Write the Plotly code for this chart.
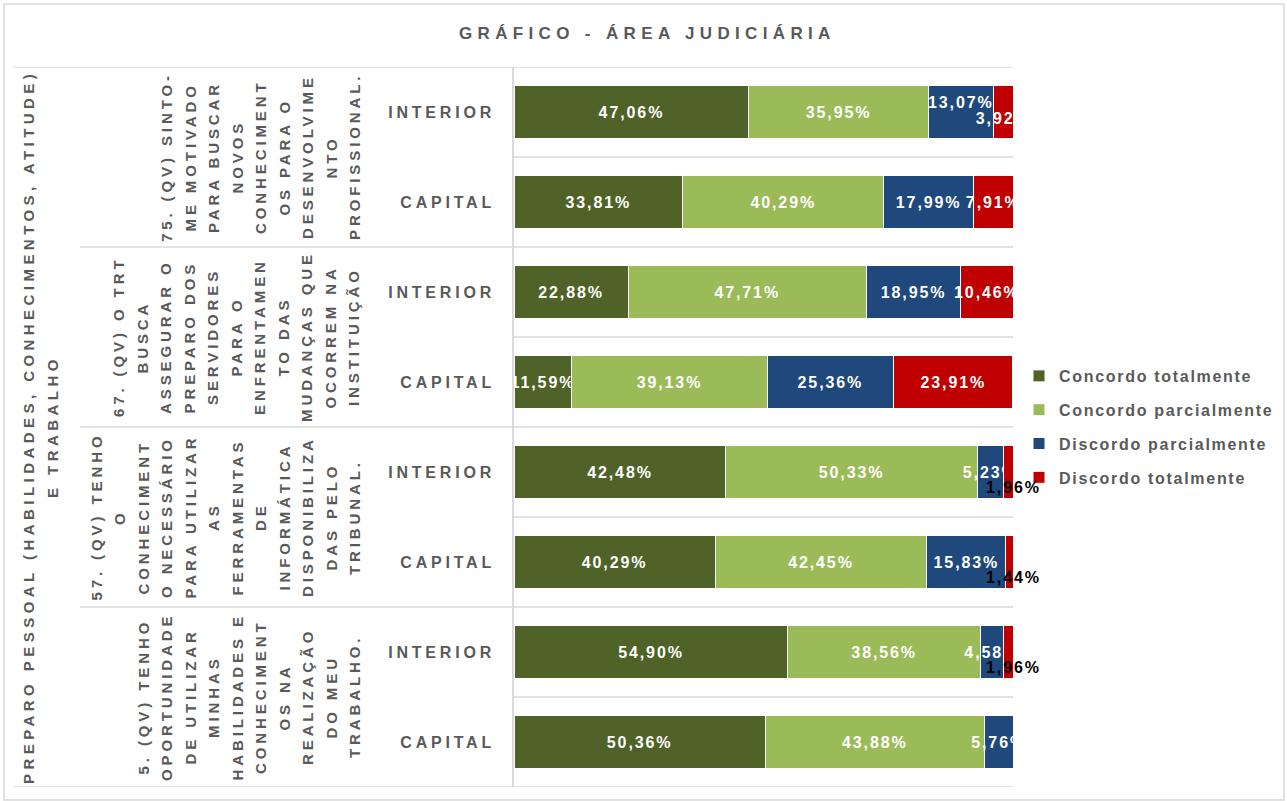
import plotly.graph_objects as go

# ---------------- data ----------------
title_text = "GRÁFICO - ÁREA JUDICIÁRIA"
group_label = ["PREPARO PESSOAL (HABILIDADES, CONHECIMENTOS, ATITUDE)", "E TRABALHO"]
questions = [
    ["75. (QV) SINTO-", "ME MOTIVADO", "PARA BUSCAR", "NOVOS", "CONHECIMENT",
     "OS PARA O", "DESENVOLVIME", "NTO", "PROFISSIONAL."],
    ["67. (QV) O TRT", "BUSCA", "ASSEGURAR O", "PREPARO DOS", "SERVIDORES",
     "PARA O", "ENFRENTAMEN", "TO DAS", "MUDANÇAS QUE", "OCORREM NA", "INSTITUIÇÃO"],
    ["57. (QV) TENHO", "O", "CONHECIMENT", "O NECESSÁRIO", "PARA UTILIZAR", "AS",
     "FERRAMENTAS", "DE", "INFORMÁTICA", "DISPONIBILIZA", "DAS PELO", "TRIBUNAL."],
    ["5. (QV) TENHO", "OPORTUNIDADE", "DE UTILIZAR", "MINHAS", "HABILIDADES E",
     "CONHECIMENT", "OS NA", "REALIZAÇÃO", "DO MEU", "TRABALHO."],
]
regions = ["INTERIOR", "CAPITAL", "INTERIOR", "CAPITAL", "INTERIOR", "CAPITAL", "INTERIOR", "CAPITAL"]
series_names = ["Concordo totalmente", "Concordo parcialmente", "Discordo parcialmente", "Discordo totalmente"]
concordo_total = [47.06, 33.81, 22.88, 11.59, 42.48, 40.29, 54.90, 50.36]
concordo_parc = [35.95, 40.29, 47.71, 39.13, 50.33, 42.45, 38.56, 43.88]
discordo_parc = [13.07, 17.99, 18.95, 25.36, 5.23, 15.83, 4.58, 5.76]
discordo_total = [3.92, 7.91, 10.46, 23.91, 1.96, 1.44, 1.96, 0.0]
colors = ["#4F6228", "#9BBB59", "#1F497D", "#C00000"]

# labels moved off-centre in the original (series index, row)
raised_labels = [(2, 0)]
lowered_labels = [(3, 0)]
outside_black_labels = [(3, 4), (3, 5), (3, 6)]

# ---------------- helpers ----------------
W, H = 1287, 801
FONT = "Liberation Sans, Arial, sans-serif"
GRAY = "#595959"
LINE = "#D9D9D9"


def px(x):
    return x / W


def py(y):
    return 1 - y / H


def sp(text, ls):
    return f'<span style="letter-spacing:{ls}px"><b>{text}</b></span>'


def fmt(v):
    return f"{v:.2f}".replace(".", ",") + "%"


series = [concordo_total, concordo_parc, discordo_parc, discordo_total]
rows = list(range(len(regions)))
special = set(raised_labels) | set(lowered_labels) | set(outside_black_labels)
LBL = 16
LBL_LS = 1.9

fig = go.Figure()
for si, (name, vals, col) in enumerate(zip(series_names, series, colors)):
    texts = []
    for r, v in enumerate(vals):
        if v == 0 or (si, r) in special:
            texts.append("")
        else:
            texts.append(sp(fmt(v), LBL_LS))
    fig.add_trace(go.Bar(
        y=rows, x=vals, orientation="h", name=sp(name, 1.7),
        marker=dict(color=col, line=dict(color="white", width=1)),
        text=texts, textposition="inside", insidetextanchor="middle",
        textangle=0, textfont=dict(family=FONT, size=LBL, color="white"),
        legendgroup=str(si), hoverinfo="skip", cliponaxis=True,
    ))

# moved labels, positioned from the data (cumulative sums)
def seg_center(si, r):
    return sum(series[k][r] for k in range(si)) + series[si][r] / 2

for (lst, pos) in [(raised_labels, "top center"), (lowered_labels, "bottom center")]:
    xs = [seg_center(si, r) for si, r in lst]
    ys = [r for si, r in lst]
    tx = [sp(fmt(series[si][r]), LBL_LS) for si, r in lst]
    fig.add_trace(go.Scatter(
        x=xs, y=ys, mode="text", text=tx, textposition=pos,
        textfont=dict(family=FONT, size=LBL, color="white"),
        showlegend=False, hoverinfo="skip", cliponaxis=True,
    ))

annotations = []
for si, r in outside_black_labels:
    annotations.append(dict(
        x=100, y=r, xref="x", yref="y", text=sp(fmt(series[si][r]), LBL_LS),
        showarrow=False, xanchor="center", yanchor="middle", yshift=-15, xshift=0,
        font=dict(family=FONT, size=LBL, color="black"),
    ))

# ---------------- layout geometry ----------------
x_left, x_right = 514, 1013
y_top, y_bottom = 67, 787
row_h = (y_bottom - y_top) / len(regions)

# level-1 category label (rotated)
l1_x = [28, 52]
for line, xx in zip(group_label, l1_x):
    annotations.append(dict(
        x=px(xx), y=py((y_top + y_bottom) / 2), xref="paper", yref="paper",
        text=sp(line, 4.45), textangle=-90, showarrow=False,
        xanchor="center", yanchor="middle",
        font=dict(family=FONT, size=15, color=GRAY),
    ))

# level-2 category labels (rotated, wrapped)
last_line_x, line_step = 354, 23.5
for g, lines in enumerate(questions):
    yc = y_top + row_h * (2 * g + 1)
    n = len(lines)
    for i, line in enumerate(lines):
        xx = last_line_x - line_step * (n - 1 - i)
        annotations.append(dict(
            x=px(xx), y=py(yc), xref="paper", yref="paper",
            text=sp(line, 3.9), textangle=-90, showarrow=False,
            xanchor="center", yanchor="middle",
            font=dict(family=FONT, size=15, color=GRAY),
        ))

# separator lines
shapes = []
def hline(yval, x0):
    shapes.append(dict(type="line", xref="paper", yref="y", x0=px(x0), x1=px(x_right),
                       y0=yval, y1=yval, line=dict(color=LINE, width=1.5)))

hline(-0.5, 13)
hline(len(regions) - 0.5, 13)
for k in range(1, len(questions)):
    hline(2 * k - 0.5, 80)
for k in range(len(questions)):
    hline(2 * k + 0.5, x_left)
# outer chart border
shapes.append(dict(type="rect", xref="paper", yref="paper", x0=px(4), x1=px(1284),
                   y0=py(800), y1=py(4), line=dict(color=LINE, width=1.5)))

fig.update_layout(
    width=W, height=H, margin=dict(l=0, r=0, t=0, b=0),
    paper_bgcolor="white", plot_bgcolor="white",
    barmode="stack", bargap=0.42,
    uniformtext=dict(minsize=LBL, mode="show"),
    title=dict(text=sp(title_text, 5.35), x=0.503, xanchor="center", y=py(33), yanchor="middle",
               font=dict(family=FONT, size=17, color=GRAY)),
    xaxis=dict(domain=[px(x_left), px(x_right)], range=[0, 100], showgrid=False,
               zeroline=False, showticklabels=False, showline=False, fixedrange=True),
    yaxis=dict(domain=[py(y_bottom), py(y_top)], range=[len(regions) - 0.5, -0.5],
               tickmode="array", tickvals=rows, ticktext=[sp(r, 3.8) for r in regions],
               ticks="", showgrid=False, zeroline=False, showline=True, linecolor=LINE,
               linewidth=1.5, ticklabelstandoff=14,
               tickfont=dict(family=FONT, size=16, color=GRAY), fixedrange=True),
    legend=dict(x=px(1019), y=py(427), xanchor="left", yanchor="middle",
                font=dict(family=FONT, size=16, color=GRAY),
                tracegroupgap=10, traceorder="grouped", bgcolor="rgba(0,0,0,0)"),
    annotations=annotations, shapes=shapes, showlegend=True,
)

fig.write_html("out.html", config={"displayModeBar": False},
               post_script="document.body.style.margin='0';")
